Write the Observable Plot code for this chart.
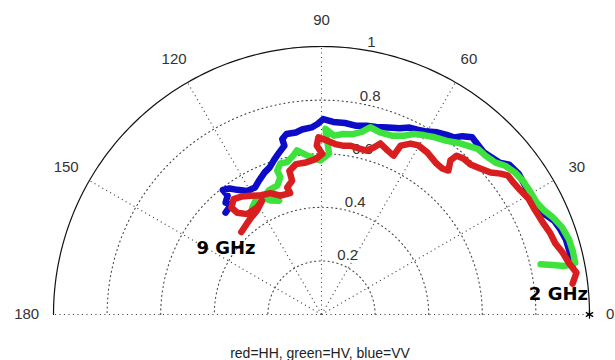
<!DOCTYPE html>
<html><head><meta charset="utf-8">
<script src="https://cdn.jsdelivr.net/npm/d3@7"></script>
<script src="https://cdn.jsdelivr.net/npm/@observablehq/plot@0.6"></script>
<style>html,body{margin:0;padding:0;background:#fff;overflow:hidden}#chart{width:615px;height:360px}</style>
</head><body><div id="chart"></div>
<script>
// Polar data: angle (degrees) and normalized magnitude, from 2 GHz to 9 GHz
const hhAngle = [7.0,9.3,11.9,14.4,16.9,19.5,22.3,24.5,26.8,29.3,31.9,34.5,36.8,38.2,40.0,42.6,45.2,47.7,49.6,50.1,48.6,50.4,52.7,56.8,60.2,62.5,64.9,65.6,68.1,71.0,72.5,74.6,77.4,80.2,82.8,85.4,88.1,91.0,91.6,89.7,92.2,95.8,99.6,102.6,102.4,105.1,104.5,109.1,112.8,116.9,120.7,124.2,127.3,130.1,129.6,126.5,121.1,117.6,121.9,126.0,129.7,134.2];
const hhRadius = [0.944,0.964,0.942,0.929,0.912,0.906,0.895,0.890,0.886,0.885,0.875,0.869,0.867,0.850,0.824,0.805,0.789,0.787,0.778,0.750,0.716,0.707,0.708,0.722,0.727,0.719,0.696,0.651,0.660,0.675,0.654,0.634,0.635,0.639,0.635,0.638,0.649,0.661,0.630,0.599,0.580,0.570,0.569,0.549,0.511,0.491,0.468,0.469,0.491,0.499,0.515,0.532,0.541,0.522,0.493,0.466,0.466,0.479,0.456,0.447,0.438,0.429];
const hvAngle = [12.9,12.1,11.3,11.5,14.2,16.9,19.9,22.7,24.9,27.5,30.2,33.6,36.2,39.0,41.1,44.0,46.6,49.0,51.4,54.2,57.4,60.4,63.0,65.3,68.5,72.2,75.4,77.4,80.1,83.2,86.0,88.8,87.3,90.4,95.2,98.5,100.0,102.7,105.2,107.1,106.7,108.9,113.0,115.2,112.3,110.4,114.1,116.7,119.8,122.8,125.6];
const hvRadius = [0.839,0.881,0.923,0.966,0.967,0.965,0.955,0.937,0.918,0.905,0.904,0.902,0.896,0.882,0.862,0.852,0.850,0.834,0.819,0.799,0.785,0.770,0.756,0.734,0.717,0.714,0.722,0.699,0.683,0.678,0.669,0.693,0.601,0.575,0.596,0.619,0.603,0.583,0.584,0.562,0.535,0.509,0.503,0.491,0.466,0.453,0.466,0.490,0.493,0.476,0.454];
const vvAngle = [10.9,14.0,17.1,19.6,21.9,23.8,25.5,27.8,31.4,35.4,38.6,40.5,42.7,45.0,48.1,49.6,51.7,53.1,55.1,57.6,60.0,62.6,64.8,67.2,70.4,73.7,76.6,79.5,83.0,86.5,89.5,91.2,93.0,96.0,98.0,101.0,102.6,102.4,104.6,106.8,109.4,111.8,115.1,117.6,121.0,124.0,126.1,128.4,128.3,130.6,129.3,133.3];
const vvRadius = [0.954,0.955,0.954,0.946,0.936,0.917,0.898,0.895,0.898,0.904,0.896,0.873,0.864,0.856,0.863,0.868,0.848,0.826,0.817,0.805,0.788,0.777,0.771,0.754,0.741,0.729,0.724,0.716,0.720,0.720,0.729,0.711,0.699,0.694,0.686,0.686,0.671,0.645,0.625,0.606,0.582,0.571,0.551,0.535,0.538,0.561,0.582,0.593,0.565,0.550,0.531,0.522];

const seriesNames = ["VV","HV","HH"];
const seriesColors = ["#0c0cc8","#3de23d","#d81e1e"];
const ringTicks = [0.2,0.4,0.6,0.8];
const ringLabelValues = [0.2,0.4,0.6,0.8,1];
const ringLabels = ["0.2","0.4","0.6","0.8","1"];
const spokeAngles = [0,30,60,90,120,150,180];
const spokeLabels = ["0","30","60","90","120","150","180"];
const annotText = ["9 GHz","2 GHz"];
const annotAngle = [145.4,4.8];
const annotRadius = [0.433,0.887];
const markerAngle = [0];
const markerRadius = [1];
const caption = "red=HH, green=HV, blue=VV";

const rad = a => a * Math.PI / 180;
const px = (a, r) => r * Math.cos(rad(a));
const py = (a, r) => r * Math.sin(rad(a));
const toPts = (name, A, R) => A.map((a, i) => ({s: name, x: px(a, R[i]), y: py(a, R[i])}));
const curves = [
  toPts("VV", vvAngle, vvRadius),
  toPts("HV", hvAngle, hvRadius),
  toPts("HH", hhAngle, hhRadius)
];
const arc = d3.range(0, 181, 1);
const ringPts = ringTicks.flatMap(r => arc.map(a => ({r, x: px(a, r), y: py(a, r)})));
const outerPts = arc.map(a => ({x: px(a, 1), y: py(a, 1)}));

const W = 615, H = 360, CX = 321, CY = 314, R = 268;
const font = "'Liberation Sans', Arial, sans-serif";
const labelIdx = spokeAngles.map((a, i) => i);

const marks = [
  Plot.line(ringPts, {x: "x", y: "y", z: "r", stroke: "#444", strokeWidth: 1.1, strokeDasharray: "1.1,3.4"}),
  Plot.link(spokeAngles, {x1: 0, y1: 0, x2: a => px(a, 1), y2: a => py(a, 1), stroke: "#444", strokeWidth: 1.1, strokeDasharray: "1.1,3.4"}),
  Plot.line(outerPts, {x: "x", y: "y", stroke: "#111", strokeWidth: 1.2}),
  Plot.text(labelIdx.filter(i => spokeAngles[i] !== 0), {x: i => px(spokeAngles[i], 1.1), y: i => py(spokeAngles[i], 1.1), text: i => spokeLabels[i], fontSize: 15, fill: "#333", fontFamily: font}),
  Plot.text(labelIdx.filter(i => spokeAngles[i] === 0), {x: i => px(spokeAngles[i], 1.1), y: i => py(spokeAngles[i], 1.1), text: i => spokeLabels[i], textAnchor: "end", dx: -2, fontSize: 15, fill: "#333", fontFamily: font}),
  Plot.text(ringLabelValues, {x: r => px(82, r + 0.01), y: r => py(82, r + 0.01), text: (r, i) => ringLabels[i], textAnchor: "start", lineAnchor: "bottom", dx: 8, dy: 1, fontSize: 15, fill: "#333", fontFamily: font})
];
curves.forEach((c, i) => {
  marks.push(Plot.line(c, {x: "x", y: "y", stroke: seriesColors[i], strokeWidth: 6.5, strokeLinejoin: "round", strokeLinecap: "round"}));
});
marks.push(
  Plot.dot(markerAngle, {x: (a, i) => px(a, markerRadius[i]), y: (a, i) => py(a, markerRadius[i]), symbol: "asterisk", r: 4, stroke: "#000", strokeWidth: 1.2}),
  Plot.text(annotText, {x: (t, i) => px(annotAngle[i], annotRadius[i]), y: (t, i) => py(annotAngle[i], annotRadius[i]), text: d => d, fontSize: 18, fontWeight: "bold", fill: "#000", fontFamily: "'DejaVu Sans', sans-serif"}),
  Plot.text([caption], {frameAnchor: "bottom", dx: 12, dy: -3, fontSize: 14, fill: "#222", fontFamily: font})
);

const chart = Plot.plot({
  width: W, height: H,
  marginTop: 0, marginRight: 0, marginBottom: 0, marginLeft: 0,
  x: {domain: [-CX / R, (W - CX) / R], axis: null},
  y: {domain: [(CY - H) / R, CY / R], axis: null},
  style: {background: "#fff", overflow: "visible"},
  marks
});
document.getElementById("chart").appendChild(chart);
</script>
</body></html>
